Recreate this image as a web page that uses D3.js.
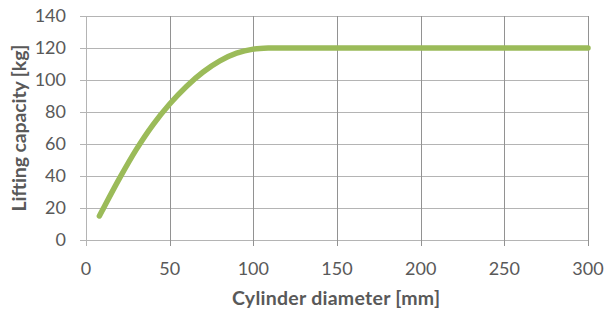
<!DOCTYPE html>
<html><head><meta charset="utf-8">
<script src="https://cdn.jsdelivr.net/npm/d3@7/dist/d3.min.js"></script>
<style>body{margin:0;background:#fff;} svg{display:block;}</style>
</head><body>
<svg id="c" width="604" height="310"></svg>
<script>
const diameters = [8, 10, 20, 30, 40, 50, 60, 70, 80, 90, 100, 110, 120, 130, 140, 150, 160, 170, 180, 190, 200, 210, 220, 230, 240, 250, 260, 270, 280, 290, 300];
const capacity  = [15, 19, 38.5, 56.5, 72, 85, 96, 105, 112, 116.8, 119.3, 120, 120, 120, 120, 120, 120, 120, 120, 120, 120, 120, 120, 120, 120, 120, 120, 120, 120, 120, 120];
const xTicks = [0, 50, 100, 150, 200, 250, 300];
const yTicks = [0, 20, 40, 60, 80, 100, 120, 140];
const xTitle = "Cylinder diameter [mm]";
const yTitle = "Lifting capacity [kg]";

const svg = d3.select("#c");
const m = {l: 86, r: 16, t: 16, b: 70};
const W = 604, H = 310;
const x = d3.scaleLinear().domain([0, 300]).range([m.l, W - m.r]);
const y = d3.scaleLinear().domain([0, 140]).range([H - m.b, m.t]);
const font = "Lato, 'Open Sans', sans-serif";

// horizontal gridlines
svg.append("g").selectAll("line").data(yTicks).join("line")
  .attr("x1", x(0) - 6).attr("x2", x(300))
  .attr("y1", d => Math.round(y(d)) + 0.5).attr("y2", d => Math.round(y(d)) + 0.5)
  .attr("stroke", "#b4b4b4").attr("stroke-width", 1);
// vertical gridlines
svg.append("g").selectAll("line").data(xTicks).join("line")
  .attr("x1", d => Math.round(x(d)) + 0.5).attr("x2", d => Math.round(x(d)) + 0.5)
  .attr("y1", y(140)).attr("y2", y(0) + 6)
  .attr("stroke", d => d === 0 ? "#b4b4b4" : "#929292").attr("stroke-width", 1);

// tick labels
svg.append("g").selectAll("text").data(yTicks).join("text")
  .attr("x", 66).attr("y", d => y(d)).attr("dy", "0.36em")
  .attr("text-anchor", "end").attr("font-family", font).attr("font-size", 18)
  .attr("fill", "#595959").text(d => d);
svg.append("g").selectAll("text").data(xTicks).join("text")
  .attr("x", d => x(d)).attr("y", 275)
  .attr("text-anchor", "middle").attr("font-family", font).attr("font-size", 18)
  .attr("fill", "#595959").text(d => d);

// titles
svg.append("text").attr("x", (m.l + W - m.r) / 2 - 1).attr("y", 305)
  .attr("text-anchor", "middle").attr("font-family", font).attr("font-weight", "bold")
  .attr("font-size", 19.5).attr("fill", "#595959")
  .attr("textLength", 208).attr("lengthAdjust", "spacing").text(xTitle);
svg.append("text").attr("transform", `translate(26, ${(m.t + H - m.b) / 2}) rotate(-90)`)
  .attr("text-anchor", "middle").attr("font-family", font).attr("font-weight", "bold")
  .attr("font-size", 19.5).attr("fill", "#595959")
  .attr("textLength", 167).attr("lengthAdjust", "spacing").text(yTitle);

// line
const data = diameters.map((d, i) => [d, capacity[i]]);
svg.append("path").datum(data)
  .attr("d", d3.line().x(d => x(d[0])).y(d => y(d[1])).curve(d3.curveCatmullRom.alpha(0.5)))
  .attr("fill", "none").attr("stroke", "#9bbb59").attr("stroke-width", 5.5)
  .attr("stroke-linecap", "round").attr("stroke-linejoin", "round");
</script>
</body></html>
